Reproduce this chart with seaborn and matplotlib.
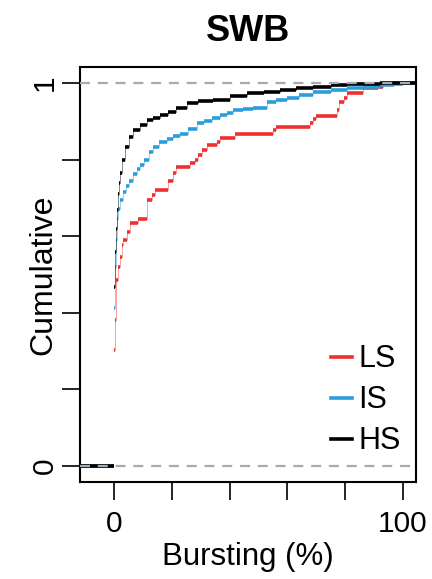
import matplotlib
matplotlib.use("Agg")
import matplotlib.pyplot as plt
import seaborn as sns
import pandas as pd

# ECDF step curves: x = jump position (%), y = level after jump
ls_x = [0, 0.4, 0.7, 1.2, 2.1, 2.7, 3.2, 4.5, 5.5, 8.4, 11.3, 13.0, 14.2, 18.8, 20.5, 21.5,
        26.3, 28.0, 29.0, 30.5, 32.0, 35.5, 36.7, 41.9, 55.1, 56.0, 67.8, 69.0, 70.0,
        77.1, 78.0, 79.5, 80.5, 86.3, 91.5, 93.0]
ls_y = [0.303, 0.38, 0.486, 0.52, 0.547, 0.577, 0.590, 0.612, 0.634, 0.644, 0.695, 0.708,
        0.722, 0.743, 0.765, 0.780, 0.790, 0.799, 0.812, 0.825, 0.838, 0.847, 0.857,
        0.867, 0.877, 0.886, 0.897, 0.905, 0.914, 0.930, 0.951, 0.962, 0.973, 0.986,
        0.990, 1.0]

is_x = [0, 0.3, 0.6, 0.9, 1.5, 2.1, 3.0, 4.0, 5.0, 6.5, 8.0, 9.0, 10.5, 12.0, 13.6, 15.5,
        18.2, 20.5, 22.8, 25.5, 28.6, 31.0, 34.0, 36.7, 39.0, 41.3, 44.5, 48.2, 52.8,
        56.0, 59.8, 64.0, 69.0, 75.0, 80.5, 86.0, 92.0, 97.0, 100.0]
is_y = [0.413, 0.52, 0.59, 0.645, 0.672, 0.695, 0.715, 0.73, 0.745, 0.763, 0.776, 0.785,
        0.80, 0.82, 0.834, 0.845, 0.855, 0.862, 0.868, 0.88, 0.895, 0.902, 0.91, 0.916,
        0.922, 0.929, 0.932, 0.936, 0.951, 0.955, 0.960, 0.968, 0.977, 0.981, 0.986,
        0.99, 0.995, 0.998, 1.0]

hs_x = [0, 0.3, 0.6, 0.9, 1.3, 1.7, 2.1, 2.8, 3.8, 5.0, 6.7, 9.0, 11.3, 13.5, 15.9, 18.5,
        21.5, 25.2, 29.0, 34.4, 40.0, 45.9, 52.0, 57.4, 63.0, 68.9, 75.0, 80.5, 86.0,
        92.0, 96.0]
hs_y = [0.467, 0.56, 0.62, 0.668, 0.71, 0.74, 0.765, 0.80, 0.834, 0.858, 0.877, 0.89,
        0.903, 0.91, 0.916, 0.925, 0.935, 0.947, 0.952, 0.957, 0.965, 0.973, 0.978,
        0.982, 0.986, 0.990, 0.994, 0.997, 0.998, 0.999, 1.0]

groups = ["LS", "IS", "HS"]
colors = {"LS": "#ee3130", "IS": "#2a9edc", "HS": "#000000"}
curves = {"LS": (ls_x, ls_y), "IS": (is_x, is_y), "HS": (hs_x, hs_y)}

xlim = (-11.8, 104.5)
ylim = (-0.042, 1.042)

plt.rcParams["font.family"] = ["Liberation Sans", "DejaVu Sans"]
fig = plt.figure(figsize=(4.32, 5.79), dpi=100)
ax = fig.add_axes([80 / 432, 1 - 482 / 579, 336 / 432, 415 / 579])

for g in groups:
    x, y = curves[g]
    # thin risers between levels (no riser for the first jump, like plot.ecdf)
    df = pd.DataFrame({"x": list(x) + [xlim[1]], "y": list(y) + [1.0]})
    sns.lineplot(data=df, x="x", y="y", drawstyle="steps-post", color=colors[g],
                 lw=0.6, alpha=0.55, ax=ax, sort=False)
    # thick horizontal treads, including the 0 level on the left and 1 on the right
    xs = [xlim[0]] + list(x) + [xlim[1]]
    ys = [0.0] + list(y) + [1.0]
    ax.hlines(ys[:-1], xs[:-1], xs[1:], color=colors[g], lw=2.6)
    ax.plot([], [], color=colors[g], lw=2.6, label=g)

for lvl in (0, 1):
    ax.axhline(lvl, color="#aaaaaa", lw=1.6, ls=(0, (4.5, 3.5)), zorder=10)

ax.set_xlim(*xlim)
ax.set_ylim(*ylim)
ax.set_xticks([0, 20, 40, 60, 80, 100])
ax.set_xticklabels(["0", "", "", "", "", "100"])
ax.set_yticks([0, 0.2, 0.4, 0.6, 0.8, 1])
ax.set_yticklabels(["0", "", "", "", "", "1"], rotation=90, va="center")
ax.tick_params(axis="both", length=13, width=1.2, labelsize=21.5, color="black")
ax.tick_params(axis="x", pad=7)
ax.tick_params(axis="y", pad=2)
for s in ax.spines.values():
    s.set_linewidth(1.5)

ax.set_xlabel("Bursting (%)", fontsize=22.5, va="baseline")
ax.xaxis.set_label_coords(0.5, -0.2)
ax.set_ylabel("Cumulative", fontsize=23, va="bottom")
ax.yaxis.set_label_coords(-0.065, 0.5)
ax.set_title("SWB", fontsize=26, fontweight="bold", pad=19)

ax.legend(loc="lower right", bbox_to_anchor=(1.018, 0.01), frameon=False, fontsize=22,
          handlelength=0.7, handletextpad=0.2, labelspacing=0.36, borderaxespad=0.3)

fig.savefig("out.png", dpi=100)
